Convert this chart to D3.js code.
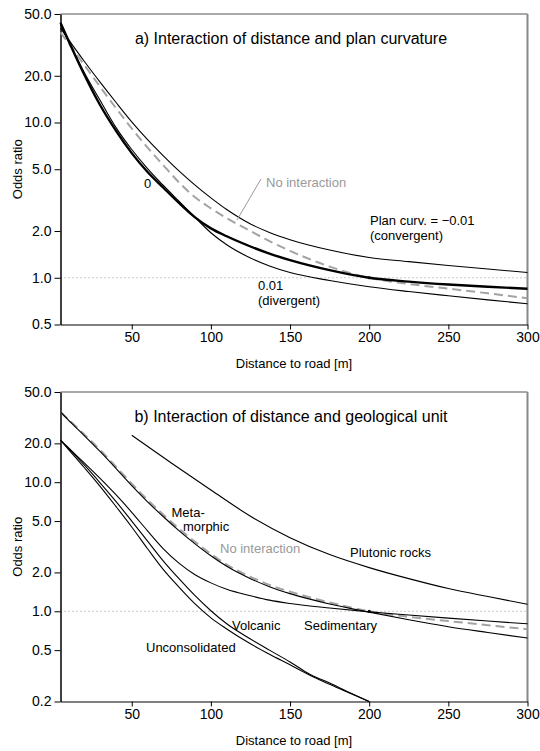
<!DOCTYPE html>
<html>
<head>
<meta charset="utf-8">
<script src="https://cdn.jsdelivr.net/npm/d3@7"></script>
<style>
  body { margin: 0; background: #fff; }
  svg { display: block; font-family: "Liberation Sans", Arial, sans-serif; }
  .tick text { font-size: 14px; fill: #000; }
</style>
</head>
<body>
<div id="chart"></div>
<script>
// distances along the x axis [m]
var distance = [5, 10, 20, 30, 40, 50, 60, 70, 80, 90, 100, 110, 125, 137, 150, 175, 200, 225, 250, 275, 300];
var distanceShort = [5, 10, 20, 30, 40, 50, 60, 70, 80, 90, 100, 110, 125, 137, 150, 162.5, 175, 187.5, 200];
var distancePlutonic = [50, 75, 100, 125, 150, 175, 200, 225, 250, 275, 300];

// panel a: plan curvature
var convergent = [40.5, 34.3, 24.8, 18.2, 13.5, 10.1, 7.76, 6.1, 4.86, 3.95, 3.27, 2.75, 2.22, 1.96, 1.76, 1.51, 1.35, 1.27, 1.2, 1.14, 1.08];
var curvZero = [44, 33.8, 20.4, 12.96, 8.86, 6.35, 4.8, 3.8, 3.02, 2.45, 2.08, 1.85, 1.59, 1.43, 1.3, 1.12, 1.0, 0.945, 0.905, 0.875, 0.85];
var divergent = [42.5, 33.5, 21, 13.9, 9.3, 6.7, 5.05, 3.93, 3.1, 2.45, 1.95, 1.63, 1.34, 1.19, 1.08, 0.96, 0.875, 0.815, 0.765, 0.72, 0.68];
var noInteractionA = [38, 32.5, 23.5, 17.0, 12.4, 9.15, 6.9, 5.3, 4.1, 3.3, 2.8, 2.42, 2.0, 1.72, 1.49, 1.18, 1.0, 0.912, 0.851, 0.794, 0.738];

// panel b: geological unit
var noInteractionB = [35, 30.7, 23.5, 17.8, 13.2, 9.75, 7.3, 5.6, 4.35, 3.45, 2.78, 2.3, 1.85, 1.6, 1.42, 1.17, 1.0, 0.905, 0.84, 0.78, 0.727];
var metamorphic = [35, 30.3, 23.0, 17.3, 12.8, 9.4, 7.05, 5.4, 4.2, 3.33, 2.69, 2.23, 1.79, 1.55, 1.37, 1.14, 0.985, 0.86, 0.76, 0.685, 0.62];
var sedimentary = [21.2, 18.5, 14.1, 10.7, 8.0, 5.85, 4.2, 3.05, 2.35, 1.92, 1.66, 1.48, 1.32, 1.22, 1.15, 1.06, 0.99, 0.935, 0.885, 0.84, 0.80];
var volcanic = [21.2, 18.3, 13.6, 9.9, 7.1, 5.0, 3.5, 2.45, 1.78, 1.32, 1.01, 0.8, 0.61, 0.5, 0.405, 0.325, 0.278, 0.235, 0.2];
var unconsolidated = [21.2, 18.0, 13.0, 9.3, 6.5, 4.5, 3.05, 2.1, 1.53, 1.14, 0.89, 0.73, 0.56, 0.465, 0.385, 0.32, 0.272, 0.233, 0.2];
var plutonic = [23.1, 14.1, 8.7, 5.45, 3.72, 2.75, 2.18, 1.79, 1.5, 1.3, 1.135];

var xTicks = [50, 100, 150, 200, 250, 300];
var yTicksA = [0.5, 1, 2, 5, 10, 20, 50];
var yTicksB = [0.2, 0.5, 1, 2, 5, 10, 20, 50];

var width = 540, height = 751;
var grey = "#a3a3a3";

var svg = d3.select("#chart").append("svg")
    .attr("width", width)
    .attr("height", height);

var x = d3.scaleLinear().domain([5, 300]).range([60.5, 527.5]);

function zip(xs, ys) {
    return xs.map(function(d, i) { return {d: d, v: ys[i]}; });
}

function drawPanel(cfg) {
    var y = d3.scaleLog().domain(cfg.yDomain).range([cfg.bottom, cfg.top]);
    var g = svg.append("g");

    // frame: top and right border
    g.append("line")
        .attr("x1", x.range()[0]).attr("x2", x.range()[1])
        .attr("y1", cfg.top).attr("y2", cfg.top)
        .attr("stroke", "#555").attr("stroke-width", 1);
    g.append("line")
        .attr("x1", x.range()[1]).attr("x2", x.range()[1])
        .attr("y1", cfg.top).attr("y2", cfg.bottom)
        .attr("stroke", "#888").attr("stroke-width", 2);

    // reference line at odds ratio 1
    g.append("line")
        .attr("x1", x.range()[0]).attr("x2", x.range()[1])
        .attr("y1", y(1)).attr("y2", y(1))
        .attr("stroke", "#999").attr("stroke-width", 1)
        .attr("stroke-dasharray", "1,3");

    var xAxis = g.append("g")
        .attr("transform", "translate(0," + cfg.bottom + ")")
        .call(d3.axisBottom(x).tickValues(xTicks).tickSize(5).tickPadding(3).tickSizeOuter(0));
    xAxis.select(".domain").attr("stroke", "#000").attr("stroke-width", 1.2);

    var yAxis = g.append("g")
        .attr("transform", "translate(" + x.range()[0] + ",0)")
        .call(d3.axisLeft(y).tickValues(cfg.yTicks).tickFormat(d3.format(".1f")).tickSize(6).tickPadding(3).tickSizeOuter(0));
    yAxis.select(".domain").attr("stroke", "#000").attr("stroke-width", 1.5);

    g.append("text")
        .attr("x", (x.range()[0] + x.range()[1]) / 2)
        .attr("y", cfg.bottom + 43)
        .attr("text-anchor", "middle")
        .style("font-size", "13px")
        .text("Distance to road [m]");

    g.append("text")
        .attr("transform", "translate(22," + (cfg.top + cfg.bottom) / 2 + ") rotate(-90)")
        .attr("text-anchor", "middle")
        .style("font-size", "13px")
        .text("Odds ratio");

    g.append("text")
        .attr("x", 291)
        .attr("y", cfg.top + 30)
        .attr("text-anchor", "middle")
        .style("font-size", "16px")
        .text(cfg.title);

    var line = d3.line()
        .x(function(p) { return x(p.d); })
        .y(function(p) { return y(p.v); })
        .curve(d3.curveMonotoneX);

    cfg.series.forEach(function(s) {
        g.append("path")
            .datum(zip(s.xs, s.ys))
            .attr("d", line)
            .attr("fill", "none")
            .attr("stroke", s.color || "#000")
            .attr("stroke-width", s.width || 1.1)
            .attr("stroke-dasharray", s.dash || null);
    });

    g.append("circle")
        .attr("cx", x(200)).attr("cy", y(1)).attr("r", 1.6)
        .attr("fill", "#000");

    cfg.labels.forEach(function(l) {
        g.append("text")
            .attr("x", l.x).attr("y", l.y)
            .attr("fill", l.color || "#000")
            .style("font-size", "13px")
            .text(l.text);
    });

    return {g: g, y: y};
}

var a = drawPanel({
    top: 14, bottom: 324.5,
    yDomain: [0.5, 50], yTicks: yTicksA,
    title: "a) Interaction of distance and plan curvature",
    series: [
        {xs: distance, ys: noInteractionA, color: grey, width: 2, dash: "9,5"},
        {xs: distance, ys: convergent},
        {xs: distance, ys: divergent},
        {xs: distance, ys: curvZero, width: 2.4}
    ],
    labels: [
        {x: 144, y: 188, text: "0"},
        {x: 266, y: 187, text: "No interaction", color: "#999"},
        {x: 370, y: 225, text: "Plan curv. = \u22120.01"},
        {x: 370, y: 239.5, text: "(convergent)"},
        {x: 258, y: 290, text: "0.01"},
        {x: 258, y: 304.5, text: "(divergent)"}
    ]
});

// leader from "No interaction" to the dashed curve
a.g.append("line")
    .attr("x1", 261).attr("y1", 179)
    .attr("x2", 237).attr("y2", 220)
    .attr("stroke", "#999").attr("stroke-width", 1);

drawPanel({
    top: 392, bottom: 701.5,
    yDomain: [0.2, 50], yTicks: yTicksB,
    title: "b) Interaction of distance and geological unit",
    series: [
        {xs: distance, ys: noInteractionB, color: grey, width: 2, dash: "9,5"},
        {xs: distance, ys: metamorphic},
        {xs: distance, ys: sedimentary},
        {xs: distanceShort, ys: volcanic},
        {xs: distanceShort, ys: unconsolidated},
        {xs: distancePlutonic, ys: plutonic}
    ],
    labels: [
        {x: 171.5, y: 517, text: "Meta-"},
        {x: 183, y: 531, text: "morphic"},
        {x: 220, y: 553, text: "No interaction", color: "#999"},
        {x: 350, y: 557, text: "Plutonic rocks"},
        {x: 232, y: 630, text: "Volcanic"},
        {x: 304, y: 630, text: "Sedimentary"},
        {x: 146, y: 652, text: "Unconsolidated"}
    ]
});
</script>
</body>
</html>
